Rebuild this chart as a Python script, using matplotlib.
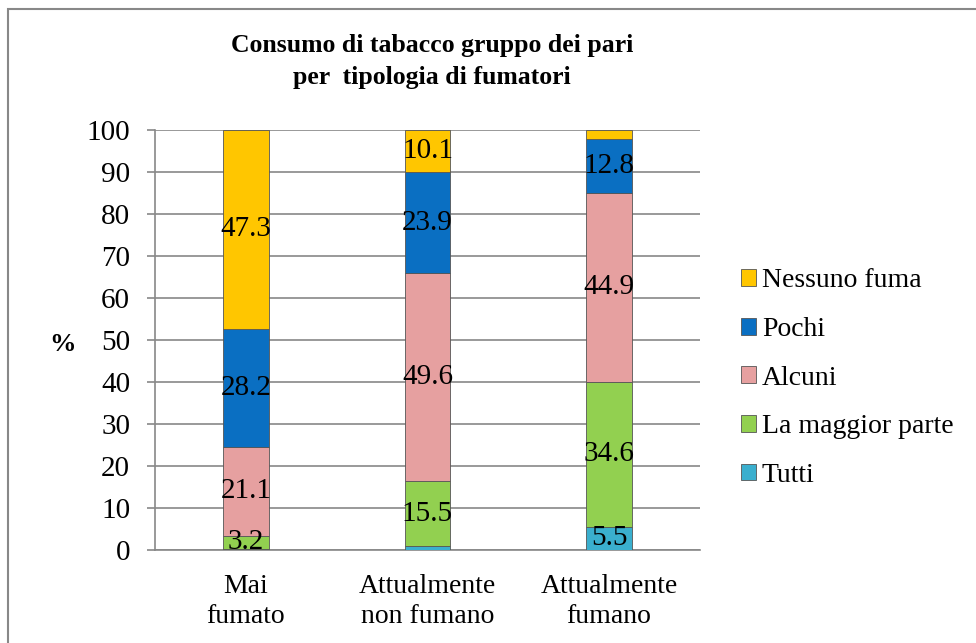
import matplotlib.pyplot as plt
import numpy as np
from matplotlib.patches import Rectangle

plt.rcParams['font.family'] = ['Liberation Serif', 'DejaVu Serif']

# data (percent per smoker type)
categories = ["Mai\nfumato", "Attualmente\nnon fumano", "Attualmente\nfumano"]
tutti = [0.2, 0.9, 5.5]
maggior_parte = [3.2, 15.5, 34.6]
alcuni = [21.1, 49.6, 44.9]
pochi = [28.2, 23.9, 12.8]
nessuno = [47.3, 10.1, 2.2]

series = [("Tutti", tutti, "#3AAFCE"),
          ("La maggior parte", maggior_parte, "#92D050"),
          ("Alcuni", alcuni, "#E6A0A0"),
          ("Pochi", pochi, "#0A6FC2"),
          ("Nessuno fuma", nessuno, "#FFC600")]
# labels not shown for the tiny segments
hidden = {("Tutti", 0), ("Tutti", 1), ("Nessuno fuma", 2)}

fig = plt.figure(figsize=(9.76, 6.43), dpi=100)
ax = fig.add_axes([0.159, 0.1446, 0.558, 0.6534])

x = np.arange(len(categories))
bottom = np.zeros(len(categories))
handles = []
for name, vals, col in series:
    vals = np.array(vals)
    b = ax.bar(x, vals, 0.25, bottom=bottom, color=col, edgecolor="#555555",
               linewidth=0.6, label=name, zorder=3)
    handles.append(b)
    for i, v in enumerate(vals):
        if (name, i) in hidden:
            continue
        ax.text(x[i], bottom[i] + v / 2, "%.1f" % v, ha="center", va="center",
                fontsize=21, zorder=4)
    bottom += vals

ax.set_ylim(0, 100)
ax.set_xlim(-0.5, 2.5)
ax.set_yticks(range(0, 101, 10))
ax.yaxis.grid(True, color="#888888", linewidth=1.2, zorder=0)
ax.tick_params(axis="y", labelsize=21, length=6, width=1.2, color="#888888", pad=12)
ax.tick_params(axis="x", labelsize=20, length=0, pad=17)
ax.set_xticks(x)
ax.set_xticklabels(categories, linespacing=1.3)
for s in ["top", "right"]:
    ax.spines[s].set_visible(False)
for s in ["left", "bottom"]:
    ax.spines[s].set_color("#888888")
    ax.spines[s].set_linewidth(1.2)

ax.set_ylabel("%", fontsize=19, fontweight="bold", rotation=0, va="center")
ax.yaxis.set_label_coords(-0.17, 0.49)

fig.text(0.443, 0.904, "Consumo di tabacco gruppo dei pari\nper  tipologia di fumatori",
         ha="center", va="center", fontsize=18.5, fontweight="bold", linespacing=1.5)

leg = fig.legend(handles[::-1], [s[0] for s in series][::-1], loc="center left",
                 bbox_to_anchor=(0.748, 0.412), frameon=False, fontsize=20,
                 handlelength=0.55, handleheight=0.55, handletextpad=0.2,
                 labelspacing=0.85, borderaxespad=0)

# chart border (runs past the right and bottom edges in the original)
fig.patches.append(Rectangle((0.008, -0.1), 1.2, 1.086, transform=fig.transFigure,
                             fill=False, edgecolor="#888888", linewidth=1.5))

fig.savefig("out.png", dpi=100)
